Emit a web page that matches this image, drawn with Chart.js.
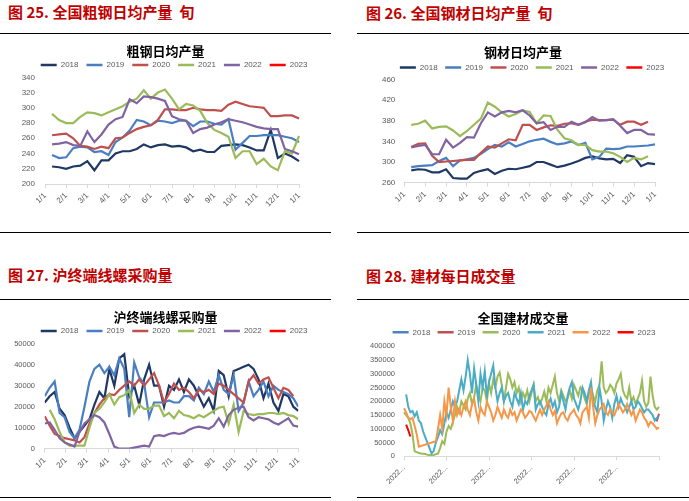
<!DOCTYPE html>
<html><head><meta charset="utf-8">
<script src="https://cdn.jsdelivr.net/npm/chart.js@4.4.0/dist/chart.umd.min.js"></script>
<style>
html,body{margin:0;padding:0;background:#fff;}
body{width:689px;height:501px;overflow:hidden;position:relative;font-family:"Noto Sans CJK SC",sans-serif;}
.h{position:absolute;color:#C00000;font-weight:700;font-size:15px;line-height:18px;white-space:pre;}
.rule{position:absolute;height:1px;background:#000;}
canvas{position:absolute;}
</style></head>
<body>
<div class="h" style="left:8px;top:3px">图 25. 全国粗钢日均产量  旬</div>
<div class="h" style="left:366px;top:4px">图 26. 全国钢材日均产量  旬</div>
<div class="h" style="left:8px;top:266px">图 27. 沪终端线螺采购量</div>
<div class="h" style="left:366px;top:267px">图 28. 建材每日成交量</div>
<div class="rule" style="left:0;top:33px;width:331px"></div>
<div class="rule" style="left:357px;top:33px;width:332px"></div>
<div class="rule" style="left:0;top:232px;width:331px"></div>
<div class="rule" style="left:357px;top:232px;width:332px"></div>
<div class="rule" style="left:0;top:299px;width:331px"></div>
<div class="rule" style="left:357px;top:299px;width:332px"></div>
<div class="rule" style="left:0;top:497px;width:331px"></div>
<div class="rule" style="left:357px;top:497px;width:332px"></div>
<canvas id="c25" width="331" height="195" style="left:0;top:36px"></canvas>
<canvas id="c26" width="332" height="195" style="left:357px;top:36px"></canvas>
<canvas id="c27" width="331" height="195" style="left:0;top:301px"></canvas>
<canvas id="c28" width="332" height="195" style="left:357px;top:301px"></canvas>
<script>
// ---------- shared labels ----------
const years = ['2018','2019','2020','2021','2022','2023'];
const monthLabels = ['1/1','2/1','3/1','4/1','5/1','6/1','7/1','8/1','9/1','10/1','11/1','12/1','1/1'];
const dealTickLabel = '2022...';

// ---------- 图25 粗钢日均产量 (旬, 36 per year) ----------
const crude2018 = [223,222,220,223,224,230,218,231,231,240,243,243,246,252,248,251,252,249,250,248,243,245,242,242,250,251,252,251,248,244,244,271,234,240,236,230];
const crude2019 = [238,234,235,247,249,248,242,243,238,255,261,270,284,282,277,283,282,280,283,283,276,282,282,279,278,285,245,254,263,263,264,264,264,262,260,255];
const crude2020 = [264,265,266,260,250,249,246,249,247,260,261,267,272,275,277,284,298,298,297,297,300,298,297,297,296,304,308,305,302,301,300,289,289,290,290,286];
const crude2021 = [292,284,280,280,288,294,293,290,294,298,302,308,312,323,312,320,324,312,298,305,303,296,280,271,267,262,234,243,243,226,233,223,218,243,240,263];
const crude2022 = [252,253,255,251,250,269,255,265,278,285,288,311,306,315,314,312,309,289,285,283,267,272,274,278,281,285,283,281,278,275,273,272,272,246,243,239];
const crude2023 = [];

// ---------- 图26 钢材日均产量 (旬) ----------
const steel2018 = [284,286,285,280,280,286,269,268,268,279,283,286,277,283,287,286,289,292,300,300,295,290,293,297,302,308,311,307,305,306,298,313,310,292,298,296];
const steel2019 = [290,292,293,294,302,308,292,303,305,308,316,325,333,330,338,330,335,340,343,345,339,334,336,340,333,337,305,310,326,325,326,330,330,331,332,334];
const steel2020 = [329,335,336,312,300,301,302,303,304,304,318,330,328,336,344,342,372,372,362,367,371,370,374,375,372,378,382,381,381,382,372,378,378,372,378,null];
const steel2021 = [372,374,380,365,368,369,361,350,360,372,384,415,407,396,388,393,400,397,375,390,389,362,346,342,333,333,323,320,320,317,310,300,308,305,311,null];
const steel2022 = [328,331,333,315,315,343,328,337,348,347,375,396,388,396,399,396,400,390,375,377,362,368,368,378,372,377,387,380,381,383,370,356,362,362,354,353];
const steel2023 = [];

// ---------- 图27 沪终端线螺采购量 (weekly, 52 per year) ----------
const buy2018 = [22000,25000,27000,19000,16000,10000,5000,8000,11000,14000,21000,27000,24000,38000,30000,43000,45000,25000,30000,21000,33000,40000,30000,30000,20000,30000,28000,33000,27000,33000,30000,25000,20000,24000,18000,37000,35000,25000,37000,38000,39000,40000,38000,33000,24000,31000,22000,18000,26000,25000,20000,18000];
const buy2019 = [25000,29000,32000,17000,15000,8000,5000,9000,20000,32000,38000,40000,36000,39000,35000,43000,38000,15000,41000,34000,31000,15000,22000,22000,22000,23000,22000,22000,25000,25000,23000,29000,26000,32000,27000,35000,28000,26000,35000,18000,22000,32000,25000,28000,32000,25000,30000,28000,27000,26000,24000,20000];
const buy2020 = [15500,11000,7000,6000,5000,4500,4000,3000,5500,12000,17000,21000,24000,26000,25500,28000,30000,32000,30000,33000,30000,33000,36000,30000,22000,26000,31000,28000,29000,27000,24000,28000,27000,28000,26000,31000,30000,28000,26000,24000,22000,32000,35000,31000,33000,34000,29000,24000,29000,28000,25000,null];
const buy2021 = [null,18500,14000,8000,3000,1500,1500,1500,1500,10000,17000,19000,22000,26000,21000,24500,25500,28000,17000,21000,19000,19000,20500,20500,15500,17000,14500,18000,16000,15500,14500,16000,15000,16500,18000,19500,20000,12000,21000,8000,18000,16500,16000,16500,16500,17000,17000,16500,17000,16000,15500,14000];
const buy2022 = [12000,12500,9000,5000,3000,2000,1000,8000,12000,14000,16000,15000,12500,7000,1000,0,0,0,500,1000,1500,1000,6000,6500,6000,7000,7500,7000,7500,9000,10000,10500,10000,9500,11000,14500,10500,16000,18500,19500,20000,15000,13500,15000,14500,14000,12500,11500,13000,14500,11000,10500];
const buy2023 = [];

// ---------- 图28 全国建材成交量 (daily sampled, 121 positions) ----------
const deal2018 = [];
const deal2019 = [135000,130000,155000];
const deal2019Start = 118;
const deal2020 = [160000,150000,140000,120000,80000,18000,15000,12000,10000,9000,
8000,6000,5000,3000,5000,8000,10000,30000,55000,45000,
90000,110000,100000,125000,150000,180000,160000,200000,185000,170000,
210000,230000,190000,215000,260000,225000,200000,250000,240000,200000,
265000,230000,280000,250000,290000,305000,260000,200000,250000,300000,
280000,250000,270000,230000,250000,200000,230000,210000,240000,200000,
230000,260000,200000,215000,190000,210000,235000,200000,250000,230000,
260000,290000,230000,200000,240000,220000,200000,210000,240000,210000,
260000,240000,220000,250000,240000,210000,190000,230000,250000,220000,
200000,240000,260000,345000,250000,230000,240000,260000,250000,230000,
265000,280000,300000,240000,220000,210000,250000,200000,215000,190000,
210000,230000,275000,200000,180000,195000,290000,220000,180000,170000,
180000];
const deal2021 = [null,225000,180000,160000,165000,145000,160000,130000,120000,90000,
70000,50000,30000,10000,20000,50000,70000,95000,80000,120000,
160000,140000,170000,200000,180000,200000,240000,280000,240000,290000,
350000,300000,230000,320000,260000,200000,300000,250000,310000,220000,
270000,300000,330000,250000,200000,230000,250000,200000,220000,230000,
200000,180000,230000,210000,190000,230000,170000,200000,190000,220000,
240000,260000,170000,190000,200000,180000,160000,150000,190000,210000,
180000,200000,160000,180000,230000,200000,170000,220000,250000,270000,
210000,190000,170000,200000,250000,230000,200000,240000,270000,200000,
180000,160000,250000,200000,130000,170000,200000,180000,140000,190000,
220000,180000,210000,190000,180000,160000,180000,200000,170000,180000,
200000,190000,175000,160000,170000,170000,160000,150000,130000,140000,
140000];
const deal2022 = [175000,160000,140000,135000,140000,110000,80000,35000,null,null,
null,null,null,null,null,55000,100000,150000,100000,200000,
150000,250000,180000,130000,200000,150000,170000,150000,180000,200000,
170000,150000,190000,210000,160000,130000,180000,160000,150000,200000,
180000,160000,130000,150000,180000,160000,140000,170000,150000,140000,
170000,150000,160000,130000,150000,170000,160000,140000,150000,165000,
160000,145000,130000,150000,170000,150000,170000,185000,200000,170000,
150000,165000,120000,140000,155000,160000,140000,130000,150000,160000,
170000,150000,140000,120000,160000,170000,180000,140000,250000,180000,
120000,150000,170000,180000,190000,160000,150000,170000,160000,150000,
170000,190000,175000,160000,170000,190000,170000,150000,165000,130000,
150000,170000,160000,140000,130000,110000,125000,120000,110000,100000,
105000];
const deal2023 = [115000,95000,72000];
const deal2023Start = 1;

// ---------- styling ----------
const colorsA = ['#203864','#4A7EC2','#C0504D','#9BBB59','#8064A2','#FF0000'];
const colorsB = ['#4F81BD','#C0504D','#9BBB59','#4BACC6','#F79646','#FF0000'];
const tickColor = '#595959';
const axisColor = '#D9D9D9';
const latin = '"Liberation Sans", Arial, sans-serif';

// shifts the (centred) legend row sideways, as the reference legend is not centred under the title
const legendShift = {
  id:'legendShift',
  afterLayout(chart, args, opts){
    const l = chart.legend;
    if (l && opts && opts.dx){ l.left += opts.dx; l.right += opts.dx; }
  }
};

function placeRun(values, start, total){
  const out = new Array(total).fill(null);
  values.forEach((v,i)=>{ out[start+i] = v; });
  return out;
}
function makeDatasets(series, colors, width, extra){
  return series.map((d,i)=>Object.assign({
    label: years[i], data: d, borderColor: colors[i], backgroundColor: colors[i],
    borderWidth: width, pointRadius: 0, pointHoverRadius: 0, pointBorderWidth: width + 0.5,
    tension: 0, fill: false, order: series.length - i
  }, extra ? extra[i] || {} : {}));
}
function makeOptions(o){
  return {
    responsive:false, animation:false, events:[],
    layout:{padding:0},
    plugins:{
      title:{display:true, text:o.title, color:'#000', font:{family:'"Noto Sans CJK SC"', size:13, weight:'bold', lineHeight:1.2}, padding:{top:o.tpt, bottom:o.tpb}},
      legend:{display:true, position:'top', fullSize:true, maxHeight:o.lh,
        labels:{usePointStyle:true, pointStyle:'line', pointStyleWidth:16, padding:o.lp, color:tickColor,
          font:{family:latin, size:8}, sort:(a,b)=>a.datasetIndex-b.datasetIndex}},
      legendShift:{dx:o.ldx},
      tooltip:{enabled:false}
    },
    scales:{
      x: Object.assign({
        grid:{display:true, drawOnChartArea:false, drawTicks:true, tickLength:4, color:o.gridColor},
        border:{display:true, color:axisColor, width:1},
        ticks:Object.assign({autoSkip:false, maxRotation:45, minRotation:45, padding:3, color:tickColor, font:{family:latin, size:o.xfs||8}}, o.xticks||{}),
        afterFit(s){ s.height = o.xh; }
      }, o.x||{}),
      y:{type:'linear', min:o.ymin, max:o.ymax,
        ticks:{stepSize:o.ystep, padding:o.ypad, color:tickColor, font:{family:latin, size:o.yfs||8}, callback:v=>String(v)},
        grid:{display:false, drawTicks:false}, border:{display:false},
        afterFit(s){ s.width = o.left; }},
      y2:{type:'linear', position:'right', display:true,
        grid:{display:false, drawTicks:false}, border:{display:false}, ticks:{display:false},
        afterFit(s){ s.width = o.right; }}
    }
  };
}

// ---------- 图25 ----------
const decadeLabels = Array.from({length: crude2018.length + 1}, (_,i)=> i % 3 === 0 ? monthLabels[i/3] : '');
const withLead = a => [null].concat(a);
new Chart(document.getElementById('c25'), {
  type:'line',
  data:{labels:decadeLabels, datasets:makeDatasets([crude2018,crude2019,crude2020,crude2021,crude2022,crude2023].map(withLead), colorsA, 2.2)},
  options:makeOptions({title:'粗钢日均产量', tpt:7.2, tpb:-5.8, lh:24.3, lp:8, ldx:8.6,
    gridColor:c=> c.index % 3 === 0 ? axisColor : 'rgba(0,0,0,0)', xh:47,
    x:{type:'category', offset:false},
    ymin:200, ymax:340, ystep:20, ypad:10, left:45, right:32}),
  plugins:[legendShift]
});

// ---------- 图26 ----------
new Chart(document.getElementById('c26'), {
  type:'line',
  data:{labels:decadeLabels, datasets:makeDatasets([steel2018,steel2019,steel2020,steel2021,steel2022,steel2023].map(withLead), colorsA, 2.2)},
  options:makeOptions({title:'钢材日均产量', tpt:8.2, tpb:-3.8, lh:23.3, lp:7.5, ldx:9,
    gridColor:c=> c.index % 3 === 0 ? axisColor : 'rgba(0,0,0,0)', xh:48.3,
    x:{type:'category', offset:false},
    ymin:260, ymax:460, ystep:40, ypad:9, left:47.3, right:34}),
  plugins:[legendShift]
});

// ---------- 图27 ----------
const weekLast = buy2018.length - 1;
const toXY = a => a.map((v,i)=>({x:i, y:v}));
new Chart(document.getElementById('c27'), {
  type:'line',
  data:{datasets:makeDatasets([buy2018,buy2019,buy2020,buy2021,buy2022,buy2023].map(toXY), colorsA, 2.2)},
  options:makeOptions({title:'沪终端线螺采购量', tpt:7.9, tpb:-5.5, lh:24.7, lp:8, ldx:8.6,
    gridColor:axisColor, xh:47.3,
    x:{type:'linear', min:0, max:weekLast,
       afterBuildTicks(s){ s.ticks = monthLabels.map((_,m)=>({value:m*weekLast/12})); }},
    xticks:{callback:(v,i)=>monthLabels[i]},
    ymin:0, ymax:50000, ystep:10000, ypad:9.7, yfs:7.5, left:44.7, right:32.7}),
  plugins:[legendShift]
});

// ---------- 图28 ----------
const dealTotal = deal2020.length;
const dealLabels = Array.from({length: dealTotal}, (_,k)=> (k % 20 === 0 && k < dealTotal - 1) ? dealTickLabel : '');
new Chart(document.getElementById('c28'), {
  type:'line',
  data:{labels:dealLabels, datasets:makeDatasets([
      deal2018,
      placeRun(deal2019, deal2019Start, dealTotal),
      deal2020, deal2021, deal2022,
      placeRun(deal2023, deal2023Start, dealTotal)], colorsB, 2, [null,null,null,null,{spanGaps:true},null])},
  options:makeOptions({title:'全国建材成交量', tpt:9.2, tpb:-4.7, lh:25.2, lp:7.2, ldx:1,
    gridColor:c=> c.index % 20 === 0 ? axisColor : 'rgba(0,0,0,0)', xh:39.7, xfs:7.5,
    x:{type:'category', offset:false},
    ymin:0, ymax:400000, ystep:50000, ypad:9, yfs:7.5, left:47, right:30}),
  plugins:[legendShift]
});
</script>
</body></html>
